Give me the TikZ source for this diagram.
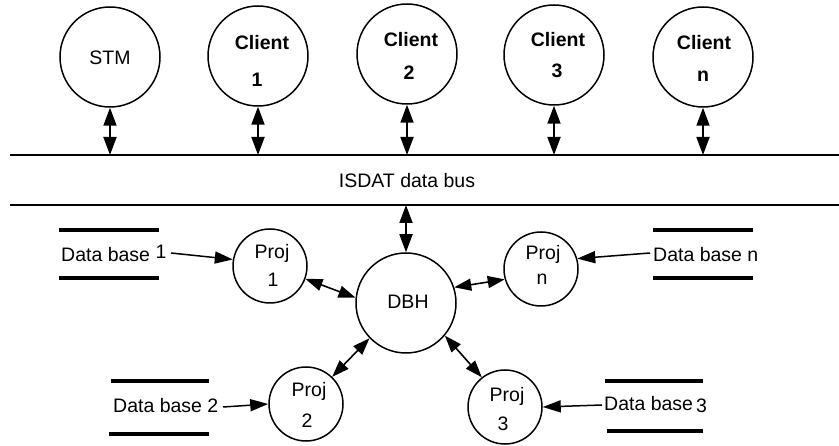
\documentclass[tikz,border=0pt]{standalone}
\usepackage{fontspec}
\setmainfont{Liberation Sans}
\usetikzlibrary{arrows.meta}
\begin{document}
\begin{tikzpicture}[x=1pt,y=-1pt,
  proc/.style={circle,draw,line width=1.5pt,inner sep=0pt},
  bigproc/.style={proc,minimum size=100pt},
  smallproc/.style={proc,minimum size=74pt},
  txt/.style={anchor=base,inner sep=0pt,font=\fontsize{19.5}{23}\selectfont},
  btxt/.style={txt,font=\fontsize{19.5}{23}\selectfont\bfseries},
  dbtxt/.style={txt,anchor=base west},
  link/.style={line width=1.8pt,{Triangle[length=18pt,width=13pt]}-{Triangle[length=18pt,width=13pt]}},
  slink/.style={line width=1.6pt,{Triangle[length=17pt,width=12pt]}-{Triangle[length=17pt,width=12pt]}},
  feed/.style={line width=1.5pt,-{Triangle[length=18pt,width=12pt]}},
  bar/.style={line width=4pt},
]
\useasboundingbox (0,0) rectangle (839,446);

% bus lines
\coordinate (busA) at (10,155);
\coordinate (busB) at (839,155);
\coordinate (busC) at (10,205);
\coordinate (busD) at (839,205);
\draw[line width=1.4pt] (busA) -- (busB);
\draw[line width=2.2pt] (busC) -- (busD);
\node[txt] (bus) at (407,188) {ISDAT data bus};

% processes on the bus
\node[bigproc] (stm) at (110,57) {};
\node[bigproc] (c1) at (258,56) {};
\node[bigproc] (c2) at (407,54) {};
\node[bigproc] (c3) at (554,55) {};
\node[bigproc] (cn) at (703,57) {};

\node[txt]  (stmt) at (110,65) {STM};
\node[btxt] (c1a) at (262,50) {Client};
\node[btxt] (c1b) at (257,87) {1};
\node[btxt] (c2a) at (411,47) {Client};
\node[btxt] (c2b) at (409,80) {2};
\node[btxt] (c3a) at (558,47) {Client};
\node[btxt] (c3b) at (557,78) {3};
\node[btxt] (cna) at (704,50) {Client};
\node[btxt] (cnb) at (703,82) {n};

\foreach \n in {stm,c1,c2,c3,cn}
  \draw[link] (\n.south) -- (\n.south |- busA);

% database handler
\node[bigproc] (dbh) at (406,303) {};
\node[txt] (dbht) at (408,309) {DBH};
\draw[link] (busC -| dbh.north) -- (dbh.north);

% projects
\node[smallproc] (p1) at (270,266) {};
\node[smallproc] (pn) at (541,269) {};
\node[smallproc] (p2) at (306,404) {};
\node[smallproc] (p3) at (505,407) {};

\node[txt] (p1a) at (272,259) {Proj};
\node[txt] (p1b) at (273,287) {1};
\node[txt] (pna) at (543,260) {Proj};
\node[txt] (pnb) at (542,285) {n};
\node[txt] (p2a) at (309,397) {Proj};
\node[txt] (p2b) at (307,428) {2};
\node[txt] (p3a) at (507,402) {Proj};
\node[txt] (p3b) at (503,431) {3};

\draw[slink] (p1.-20) -- (dbh.174);
\draw[slink] (dbh.18) -- (pn.196);
\draw[slink] (dbh.224) -- (p2.46);
\draw[slink] (dbh.-40) -- (p3.128);

% data stores
\draw[bar] (59,230) -- (159,230);
\draw[bar] (59,278) -- (159,278);
\draw[bar] (111,381) -- (209,381);
\draw[bar] (109,434) -- (209,434);
\draw[bar] (653,230) -- (753,230);
\draw[bar] (653,278) -- (753,278);
\draw[bar] (605,381) -- (703,381);
\draw[bar] (607,431) -- (703,431);

\node[dbtxt] (d1) at (61,262) {Data base \raisebox{3pt}{1}};
\node[dbtxt] (d2) at (113,413) {Data base 2};
\node[dbtxt] (dn) at (653,262) {Data base n};
\node[dbtxt] (d3) at (604,411) {Data base\hspace{3pt}\raisebox{-2pt}{3}};

\coordinate (e1) at (171,253);
\coordinate (e2) at (223,407);
\coordinate (en) at (650,253);
\coordinate (e3) at (602,405);
\draw[feed] (e1) -- (p1.170);
\draw[feed] (e2) -- (p2.west);
\draw[feed] (en) -- (pn.16);
\draw[feed] (e3) -- (p3.east);
\end{tikzpicture}
\end{document}
